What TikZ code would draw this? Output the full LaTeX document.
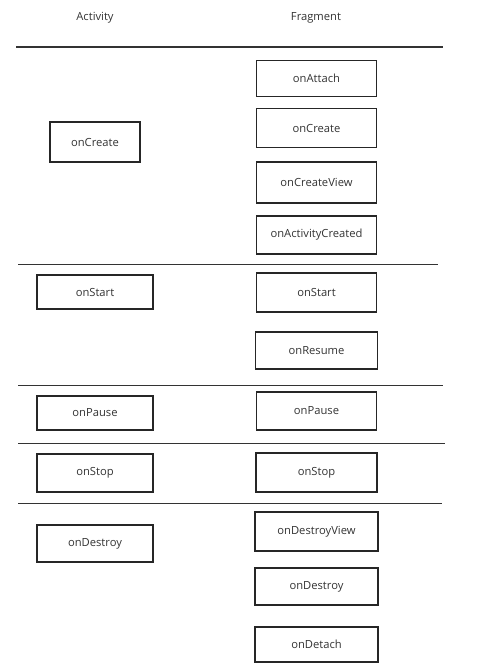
\documentclass[tikz,border=0pt]{standalone}
\usepackage{fontspec}
\setmainfont{Open Sans}
\begin{document}
\begin{tikzpicture}[
        x=1pt, y=-1pt,
        box/.style={rectangle, draw=black!85, line width=1.2pt, minimum width=120pt, minimum height=38pt, inner sep=0pt, align=center, font=\fontsize{11.2}{13}\selectfont, text=black!80},
        abox/.style={box, minimum width=116pt, minimum height=36pt},
        head/.style={font=\fontsize{11.2}{13}\selectfont, text=black!80},
        sep/.style={draw=black!80, line width=0.9pt}
    ]
    \useasboundingbox (0,0) rectangle (477,669);

    % Titoli
    \node[head] (acttitle)  at (95, 18)  {Activity};
    \node[head] (fragtitle) at (316, 18) {Fragment};
    \draw[sep, line width=1.6pt] (16,47) -- (443,47);

    % Fase di creazione
    \node[box]  (fattach)   at (316.5, 78.5) [minimum height=36pt] {onAttach};
    \node[box]  (fcreate)   at (316.5, 128)  [minimum height=39pt] {onCreate};
    \node[box]  (fview)     at (316.5, 182.5) [minimum height=41pt] {onCreateView};
    \node[box]  (factcre)   at (316.5, 235)  {onActivityCreated};
    \node[abox] (acreate)   at (95, 142)     [minimum width=90pt, minimum height=40pt] {onCreate};
    \draw[sep] (18,264) -- (438,264);

    % Avvio
    \node[abox] (astart)    at (95, 292)     [minimum height=34pt] {onStart};
    \node[box]  (fstart)    at (316.5, 292.5) [minimum height=39pt] {onStart};
    \node[box]  (fresume)   at (316.5, 350.5) [minimum width=122pt, minimum height=37pt] {onResume};
    \draw[sep] (18,385) -- (443,385);

    % Pausa
    \node[abox] (apause)    at (95, 413)     [minimum height=34pt] {onPause};
    \node[box]  (fpause)    at (316.5, 411)  {onPause};
    \draw[sep] (18,443) -- (445,443);

    % Stop
    \node[abox] (astop)     at (95, 473)     [minimum height=38pt] {onStop};
    \node[box]  (fstop)     at (316.5, 472.5) [minimum width=121pt, minimum height=39pt] {onStop};
    \draw[sep] (18,503) -- (442,503);

    % Distruzione
    \node[abox] (adestroy)  at (95, 543.5)   [minimum height=37pt] {onDestroy};
    \node[box]  (fdview)    at (316.5, 531.5) [minimum width=123pt, minimum height=39pt] {onDestroyView};
    \node[box]  (fdestroy)  at (316.5, 586.5) [minimum width=123pt, minimum height=37pt] {onDestroy};
    \node[box]  (fdetach)   at (316.5, 644.5) [minimum width=123pt, minimum height=35pt] {onDetach};

\end{tikzpicture}
\end{document}
